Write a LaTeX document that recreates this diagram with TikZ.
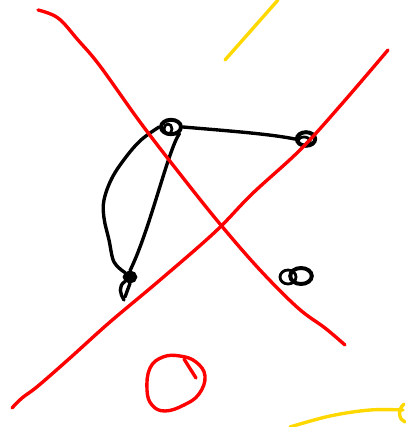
\documentclass[tikz,border=0pt]{standalone}
\usepackage{xcolor}
\usepackage{tikz}
\usetikzlibrary{shapes.geometric,calc}
\definecolor{inkred}{HTML}{FF0000}
\definecolor{inkgold}{HTML}{FFD800}
\definecolor{ink}{HTML}{000000}
\tikzset{
  vertex/.style={
    ellipse,draw=ink,line width=2.8pt,inner sep=0pt,
    minimum width=5mm,minimum height=3.6mm
  },
  innerloop/.style={draw=ink,line width=2pt},
  edge/.style={draw=ink,line width=2.4pt,line cap=round,line join=round},
  redline/.style={draw=inkred,line width=2.4pt,line cap=round,line join=round},
  goldline/.style={draw=inkgold,line width=2.4pt,line cap=round,line join=round}
}
\begin{document}
\begin{tikzpicture}[x=0.25mm,y=-0.25mm]
\useasboundingbox (0,0) rectangle (405,427);
% vertices
\node[vertex] (a) at (171,127) {};
\node[vertex,minimum width=4.6mm,minimum height=3.4mm] (b) at (306,139) {};
\node[vertex,minimum width=5.4mm,minimum height=4mm] (d) at (301,276) {};
\node[vertex,fill=ink,minimum width=2.6mm,minimum height=2.2mm] (c) at (130,277) {};
\draw[innerloop] (168,129) ellipse (4 and 5);
\draw[innerloop] (304,141) ellipse (6 and 4);
\draw[innerloop] (288,277) ellipse (8 and 7);
\draw[edge] (c.south west) .. controls (118,286) and (120,294) .. (124,300);
\draw[edge] (c.south) -- (125,297);
% edges
\draw[edge] (a.east) .. controls (230,131) and (270,134) .. (b.west);
\draw[edge] (a.south east) .. controls (168,150) and (150,230) .. (c.north);
\draw[edge] plot[smooth,tension=0.6] coordinates {(a.west) (141,140) (126,157) (112,178) (104,200) (104,218) (109,240) (114,262) (c.north west)};
% red strokes
\draw[redline] plot[smooth,tension=0.6] coordinates {(38,10) (58,18) (78,40) (100,66) (140,122) (180,174) (220,224) (260,270) (298,308) (325,328) (345,345)};
\draw[redline] plot[smooth,tension=0.6] coordinates {(388,50) (340,106) (300,150) (252,194) (215,232) (160,280) (110,322) (70,358) (38,386) (22,398) (12,408)};
\draw[redline] plot[smooth cycle,tension=0.7] coordinates {(163,357) (180,356) (196,362) (205,376) (199,394) (184,405) (165,411) (152,405) (147,390) (150,368)};
\draw[redline] (184,359) -- (196,378);
% yellow strokes
\draw[goldline] (225,60) -- (278,0);
\draw[goldline] plot[smooth,tension=0.6] coordinates {(290,427) (330,416) (370,410) (403,410)};
\draw[goldline] (404,404) .. controls (397,410) and (399,420) .. (405,422);
\end{tikzpicture}
\end{document}
